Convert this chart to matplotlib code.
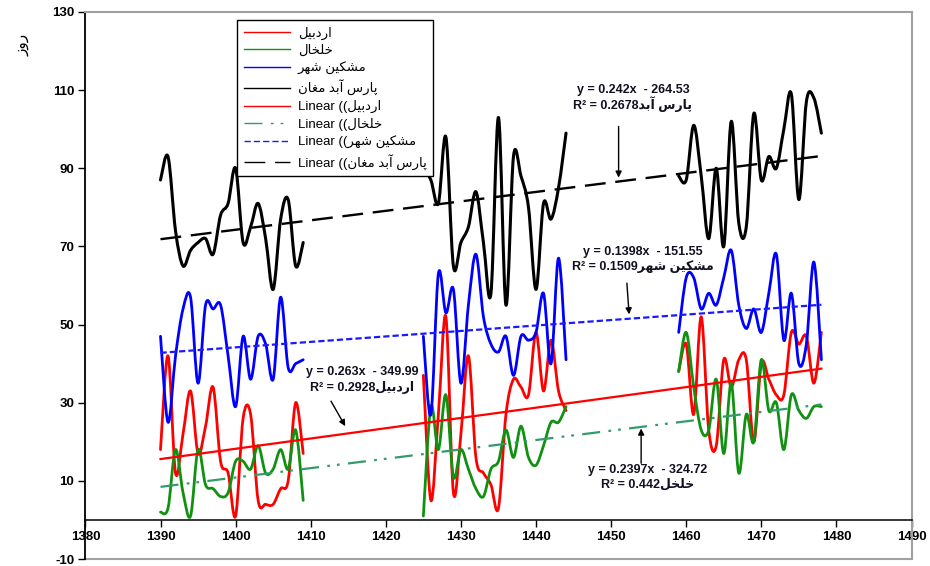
import numpy as np
import matplotlib
matplotlib.use("Agg")
import matplotlib.pyplot as plt
from matplotlib.path import Path
from matplotlib.patches import PathPatch
from matplotlib.lines import Line2D

plt.rcParams['lines.scale_dashes'] = False
plt.rcParams['axes.unicode_minus'] = False

# ---------------------------------------------------------------- data
years = [1390, 1391, 1392, 1393, 1394, 1395, 1396, 1397, 1398, 1399,
         1400, 1401, 1402, 1403, 1404, 1405, 1406, 1407, 1408, 1409,
         1425, 1426, 1427, 1428, 1429, 1430, 1431, 1432, 1433, 1434,
         1435, 1436, 1437, 1438, 1439, 1440, 1441, 1442, 1443, 1444,
         1459, 1460, 1461, 1462, 1463, 1464, 1465, 1466, 1467, 1468,
         1469, 1470, 1471, 1472, 1473, 1474, 1475, 1476, 1477, 1478]

ardabil = [18, 42, 12, 22, 33, 17, 24, 34, 15, 12, 1, 26, 27, 5, 4, 4, 8, 10, 30, 17,
           37, 5, 27, 52, 7, 22, 42, 16, 12, 9, 3, 27, 36, 34, 32, 48, 33, 46, 33, 28,
           38, 45, 27, 52, 23, 19, 41, 34, 41, 41, 20, 40, 36, 32, 32, 48, 45, 47, 35, 48]

khalkhal = [2, 3, 18, 7, 1, 18, 9, 8, 6, 7, 15, 15, 13, 19, 12, 13, 18, 13, 23, 5,
            1, 29, 18, 32, 11, 18, 13, 8, 6, 13, 15, 23, 16, 24, 16, 14, 19, 25, 25, 29,
            38, 48, 34, 23, 23, 36, 17, 35, 12, 27, 20, 41, 28, 30, 18, 32, 28, 26, 29, 29]

meshginshahr = [47, 25, 42, 54, 57, 35, 55, 54, 55, 42, 29, 47, 36, 47, 45, 36, 57, 39, 40, 41,
                47, 27, 63, 53, 59, 35, 55, 68, 52, 45, 43, 47, 37, 47, 46, 48, 58, 40, 67, 41,
                48, 62, 62, 54, 58, 55, 62, 69, 55, 49, 54, 48, 58, 68, 46, 58, 40, 45, 66, 41]

parsabad = [87, 93, 74, 65, 69, 71, 72, 68, 78, 81, 90, 71, 75, 81, 72, 59, 77, 82, 65, 71,
            90, 87, 81, 98, 65, 71, 75, 84, 71, 58, 103, 55, 93, 88, 80, 59, 81, 77, 85, 99,
            88, 87, 101, 88, 72, 90, 70, 102, 76, 75, 104, 87, 93, 90, 100, 109, 82, 107, 108, 99]

# linear trend coefficients (slope, intercept) and R^2 for each station
trend_slope = [0.263, 0.2397, 0.1398, 0.242]
trend_intercept = [-349.99, -324.72, -151.55, -264.53]
trend_r2 = ["0.2928", "0.442", "0.1509", "0.2678"]

names = ["اردبیل", "خلخال", "مشکین شهر", "پارس آبد مغان"]
r2_names = ["اردبیل", "خلخل", "مشکین شهر", "پارس آبد"]
y_label = "روز"

x_ticks = [1380, 1390, 1400, 1410, 1420, 1430, 1440, 1450, 1460, 1470, 1480, 1490]
y_ticks = [-10, 10, 30, 50, 70, 90, 110, 130]

# ---------------------------------------------------------------- Persian shaping
# (isolated, final, initial, medial); letters that only join to the right have no
# initial / medial form
FORMS = {
    'ا': (0xFE8D, 0xFE8E, None, None),
    'آ': (0xFE81, 0xFE82, None, None),
    'د': (0xFEA9, 0xFEAA, None, None),
    'ر': (0xFEAD, 0xFEAE, None, None),
    'ز': (0xFEAF, 0xFEB0, None, None),
    'و': (0xFEED, 0xFEEE, None, None),
    'ب': (0xFE8F, 0xFE90, 0xFE91, 0xFE92),
    'پ': (0xFB56, 0xFB57, 0xFB58, 0xFB59),
    'س': (0xFEB1, 0xFEB2, 0xFEB3, 0xFEB4),
    'ش': (0xFEB5, 0xFEB6, 0xFEB7, 0xFEB8),
    'خ': (0xFEA5, 0xFEA6, 0xFEA7, 0xFEA8),
    'غ': (0xFECD, 0xFECE, 0xFECF, 0xFED0),
    'ک': (0xFB8E, 0xFB8F, 0xFB90, 0xFB91),
    'ل': (0xFEDD, 0xFEDE, 0xFEDF, 0xFEE0),
    'م': (0xFEE1, 0xFEE2, 0xFEE3, 0xFEE4),
    'ن': (0xFEE5, 0xFEE6, 0xFEE7, 0xFEE8),
    'ه': (0xFEE9, 0xFEEA, 0xFEEB, 0xFEEC),
    'ی': (0xFBFC, 0xFBFD, 0xFBFE, 0xFBFF),
}


def fa(text):
    """Contextual forms in visual (left-to-right) order."""
    out = []
    for i, ch in enumerate(text):
        if ch not in FORMS:
            out.append(ch)
            continue
        prev = text[i - 1] if i > 0 else None
        nxt = text[i + 1] if i + 1 < len(text) else None
        join_prev = prev in FORMS and FORMS[prev][2] is not None
        join_next = nxt in FORMS and FORMS[ch][2] is not None
        iso, fin, ini, med = FORMS[ch]
        if join_prev and join_next:
            code = med
        elif join_prev:
            code = fin
        elif join_next:
            code = ini
        else:
            code = iso
        out.append(chr(code))
    return ''.join(reversed(out))


def smooth_path(xs, ys):
    """Cardinal (Catmull-Rom) Bezier path through the points."""
    p = np.column_stack([xs, ys]).astype(float)
    n = len(p)
    verts = [p[0]]
    codes = [Path.MOVETO]
    for i in range(n - 1):
        p0 = p[i - 1] if i > 0 else p[i]
        p3 = p[i + 2] if i + 2 < n else p[i + 1]
        verts += [p[i] + (p[i + 1] - p0) / 6.0,
                  p[i + 1] - (p3 - p[i]) / 6.0,
                  p[i + 1]]
        codes += [Path.CURVE4] * 3
    return Path(verts, codes)


def segments(xs, ys):
    xs = np.asarray(xs)
    ys = np.asarray(ys, dtype=float)
    breaks = np.where(np.diff(xs) > 1)[0] + 1
    return zip(np.split(xs, breaks), np.split(ys, breaks))


# ---------------------------------------------------------------- figure
LATIN_FA = ['Liberation Sans', 'DejaVu Sans']

fig = plt.figure(figsize=(9.30, 5.66), dpi=100)
ax = fig.add_axes([85.4 / 930, 1 - 559 / 566, (911.5 - 85.4) / 930, 547 / 566])
ax.set_xlim(1380, 1490)
ax.set_ylim(-10, 130)

series = [ardabil, khalkhal, meshginshahr, parsabad]
colors = ['#ff0000', '#119111', '#0000ff', '#000000']
widths = [2.0, 2.0, 2.0, 2.2]
for vals, col, lw in zip(series, colors, widths):
    for sx, sy in segments(years, vals):
        ax.add_patch(PathPatch(smooth_path(sx, sy), fill=False, ec=col, lw=lw,
                               capstyle='round', joinstyle='round', zorder=3))

trend_colors = ['#ff0000', '#339a6c', '#1a1aff', '#000000']
trend_dash = ['-', (0, (13, 6, 2, 5, 2, 6)), (0, (4.5, 2.2)), (0, (15, 7))]
trend_lw = [1.6, 1.6, 1.6, 1.7]
x_fit = np.array([min(years), max(years)], dtype=float)
for k in range(4):
    ax.plot(x_fit, trend_slope[k] * x_fit + trend_intercept[k], color=trend_colors[k],
            ls=trend_dash[k], lw=trend_lw[k], zorder=4)

# axes styling
ax.set_xticks(x_ticks)
ax.set_yticks(y_ticks)
for side in ('top', 'right'):
    ax.spines[side].set_color('#a0a0a0')
    ax.spines[side].set_linewidth(1.5)
ax.spines['left'].set_linewidth(1.3)
ax.spines['bottom'].set_position(('data', 0))
ax.spines['bottom'].set_linewidth(1.1)
ax.plot([0, 1], [0, 0], transform=ax.transAxes, color='#a0a0a0', lw=1.5,
        clip_on=False, zorder=1)
ax.tick_params(axis='both', direction='out', length=5, width=1, labelsize=9.5, pad=3)
for lab in ax.get_xticklabels() + ax.get_yticklabels():
    lab.set_fontfamily('Liberation Sans')
    lab.set_fontweight('bold')

fig.text(22 / 930, 1 - 45 / 566, fa(y_label), rotation=90, ha='center', va='center',
         fontsize=11, family='DejaVu Sans')

# legend
handles = [Line2D([], [], color=c, lw=1.0) for c in colors[:3]]
handles.append(Line2D([], [], color='k', lw=1.0))
for k in range(4):
    handles.append(Line2D([], [], color=trend_colors[k], ls=trend_dash[k], lw=1.0))
labels = [fa(n) for n in names] + ["Linear ((" + fa(n) for n in names]
leg = ax.legend(handles, labels, loc='upper left', bbox_to_anchor=(0.1835, 0.985),
                borderaxespad=0, frameon=True, fancybox=False, framealpha=1,
                edgecolor='k', prop={'family': LATIN_FA, 'size': 9.5},
                handlelength=3.5, handletextpad=0.6, labelspacing=0.36,
                borderpad=0.5)
leg.get_frame().set_linewidth(1.0)
leg.set_zorder(10)

# trend equations
eq_pos = [(1416.8, 37.8, 33.9), (1454.8, 12.9, 9.2), (1454.2, 68.5, 64.9), (1452.9, 110.0, 106.4)]
for k in range(4):
    xc, y1, y2 = eq_pos[k]
    ax.text(xc, y1, "y = %sx  - %.2f" % (trend_slope[k], -trend_intercept[k]),
            ha='center', va='center', fontsize=9, fontweight='bold',
            family=LATIN_FA, color='#111122', zorder=6)
    ax.text(xc, y2, "R² = " + trend_r2[k] + fa(r2_names[k]),
            ha='center', va='center', fontsize=9, fontweight='bold',
            family=LATIN_FA, color='#111122', zorder=6)

# arrows pointing at the trend lines
arrows = [((1412.7, 30.4), (1414.6, 24.0)),
          ((1454.0, 14.5), (1454.0, 23.4)),
          ((1452.1, 60.6), (1452.4, 52.6)),
          ((1451.0, 100.7), (1451.0, 87.6))]
for (x0, y0), (x1, y1) in arrows:
    ax.annotate('', xy=(x1, y1), xytext=(x0, y0),
                arrowprops=dict(arrowstyle='-|>', color='k', lw=1.0,
                                mutation_scale=9, shrinkA=0, shrinkB=0), zorder=6)

fig.savefig('out.png', dpi=100)
